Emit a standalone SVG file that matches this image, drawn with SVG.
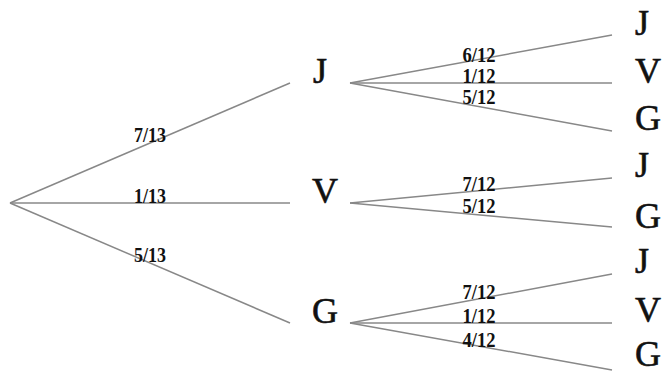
<svg xmlns="http://www.w3.org/2000/svg" width="663" height="374" viewBox="0 0 663 374">
<style>
.e{stroke:#888;stroke-width:1.5;fill:none}
.n{font-family:"Liberation Serif","Times New Roman",serif;font-size:36px;fill:#111;stroke:#111;stroke-width:0.6}
.p{font-family:"Liberation Serif","Times New Roman",serif;font-size:20px;font-weight:bold;fill:#111;text-anchor:middle}
</style>
<rect width="663" height="374" fill="#fff"/>
<g id="connectors">
<line class="e" x1="10" y1="203" x2="290" y2="83"/>
<line class="e" x1="10" y1="203" x2="290" y2="203"/>
<line class="e" x1="10" y1="203" x2="290" y2="323"/>
<line class="e" x1="350" y1="83" x2="612" y2="35"/>
<line class="e" x1="350" y1="83" x2="612" y2="83"/>
<line class="e" x1="350" y1="83" x2="612" y2="131"/>
<line class="e" x1="350" y1="203" x2="612" y2="178"/>
<line class="e" x1="350" y1="203" x2="612" y2="227"/>
<line class="e" x1="350" y1="323" x2="612" y2="274"/>
<line class="e" x1="350" y1="323" x2="612" y2="323"/>
<line class="e" x1="350" y1="323" x2="612" y2="370"/>
<text class="p" x="150" y="142" textLength="32" lengthAdjust="spacingAndGlyphs">7/13</text>
<text class="p" x="150" y="203" textLength="32" lengthAdjust="spacingAndGlyphs">1/13</text>
<text class="p" x="150" y="262" textLength="32" lengthAdjust="spacingAndGlyphs">5/13</text>
<text class="p" x="479" y="62" textLength="33" lengthAdjust="spacingAndGlyphs">6/12</text>
<text class="p" x="479" y="83" textLength="33" lengthAdjust="spacingAndGlyphs">1/12</text>
<text class="p" x="479" y="104" textLength="33" lengthAdjust="spacingAndGlyphs">5/12</text>
<text class="p" x="479" y="191" textLength="33" lengthAdjust="spacingAndGlyphs">7/12</text>
<text class="p" x="479" y="213" textLength="33" lengthAdjust="spacingAndGlyphs">5/12</text>
<text class="p" x="479" y="299" textLength="33" lengthAdjust="spacingAndGlyphs">7/12</text>
<text class="p" x="479" y="323" textLength="33" lengthAdjust="spacingAndGlyphs">1/12</text>
<text class="p" x="479" y="347" textLength="33" lengthAdjust="spacingAndGlyphs">4/12</text>
</g>
<g id="n-J"><text class="n" x="313" y="83">J</text></g>
<g id="n-V"><text class="n" x="312" y="203">V</text></g>
<g id="n-G"><text class="n" x="312" y="323">G</text></g>
<g id="n-JJ"><text class="n" x="635" y="35">J</text></g>
<g id="n-JV"><text class="n" x="635" y="83">V</text></g>
<g id="n-JG"><text class="n" x="635" y="130">G</text></g>
<g id="n-VJ"><text class="n" x="635" y="177">J</text></g>
<g id="n-VG"><text class="n" x="635" y="228">G</text></g>
<g id="n-GJ"><text class="n" x="635" y="273">J</text></g>
<g id="n-GV"><text class="n" x="635" y="322">V</text></g>
<g id="n-GG"><text class="n" x="635" y="366">G</text></g>
</svg>
